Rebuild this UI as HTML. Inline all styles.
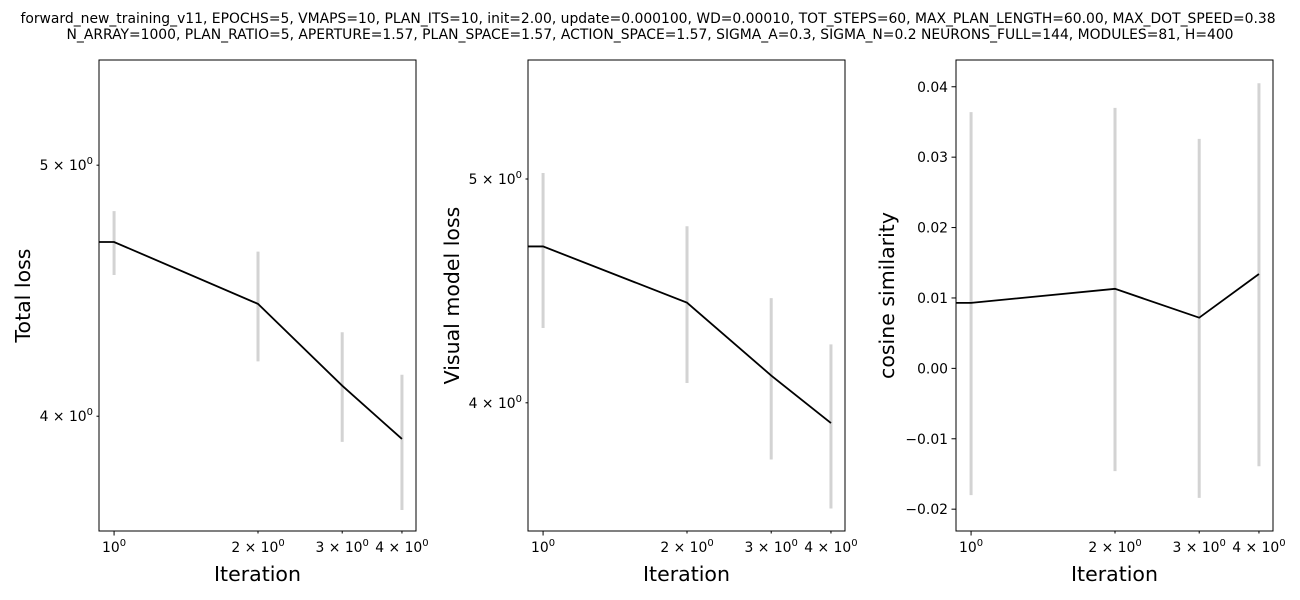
<!DOCTYPE html>
<html><head><meta charset="utf-8"><style>
body{margin:0;background:#fff;}
svg{display:block;font-family:"DejaVu Sans","Liberation Sans",sans-serif;}
</style></head><body>
<svg id="c" width="1300" height="600" viewBox="0 0 1300 600">
<text x="648" y="23" font-size="13.9" text-anchor="middle">forward_new_training_v11, EPOCHS=5, VMAPS=10, PLAN_ITS=10, init=2.00, update=0.000100, WD=0.00010, TOT_STEPS=60, MAX_PLAN_LENGTH=60.00, MAX_DOT_SPEED=0.38</text>
<text x="650" y="39" font-size="13.9" text-anchor="middle">N_ARRAY=1000, PLAN_RATIO=5, APERTURE=1.57, PLAN_SPACE=1.57, ACTION_SPACE=1.57, SIGMA_A=0.3, SIGMA_N=0.2 NEURONS_FULL=144, MODULES=81, H=400</text>
</svg>
<script>
const iterations=[1,2,3,4];
const totalLoss=[4.67,4.42,4.11,3.92];
const totalLo=[4.535,4.20,3.91,3.68];
const totalHi=[4.80,4.63,4.31,4.15];
const visLoss=[4.675,4.42,4.11,3.92];
const visLo=[4.31,4.08,3.78,3.60];
const visHi=[5.03,4.77,4.44,4.24];
const cosSim=[0.0093,0.0113,0.0072,0.0134];
const cosLo=[-0.018,-0.0146,-0.0184,-0.0139];
const cosHi=[0.0364,0.037,0.0326,0.0405];
const xTicks=[1,2,3,4];
const xTickLabels=[["10","0"],["2 × 10","0"],["3 × 10","0"],["4 × 10","0"]];
const cosTicks=[-0.02,-0.01,0,0.01,0.02,0.03,0.04];
const cosTickLabels=["−0.02","−0.01","0.00","0.01","0.02","0.03","0.04"];
const logYTicks=[4,5];
const logYLabels=[["4 × 10","0"],["5 × 10","0"]];

const svg=document.getElementById('c');
const NS='http://www.w3.org/2000/svg';
function mk(t,a,p){const e=document.createElementNS(NS,t);for(const k in a)e.setAttribute(k,a[k]);(p||svg).appendChild(e);return e;}
const T=60,B=531;
const xmin=Math.log10(0.93),xmax=Math.log10(4.28);
function sup(parent,x,y,parts,anchor){
  const t=mk('text',{x:x,y:y,'font-size':13.9,'text-anchor':anchor},parent);
  t.appendChild(document.createTextNode(parts[0]));
  const s=mk('tspan',{dy:-6,'font-size':10},t);s.textContent=parts[1];return t;
}
const panels=[
 {L:99,name:'total-loss',label:'Total loss',log:true,ymin:3.612,ymax:5.49,v:totalLoss,lo:totalLo,hi:totalHi,lx:30},
 {L:528,name:'visual-loss',label:'Visual model loss',log:true,ymin:3.52,ymax:5.63,v:visLoss,lo:visLo,hi:visHi,lx:459},
 {L:956,name:'cosine',label:'cosine similarity',log:false,ymin:-0.0231,ymax:0.0438,v:cosSim,lo:cosLo,hi:cosHi,lx:894}
];
panels.forEach(p=>{
  const W=317,R=p.L+W;
  const g=mk('g',{});
  
  
  const xs=v=>p.L+(Math.log10(v)-xmin)/(xmax-xmin)*W;
  const ys=p.log?(v=>B-(Math.log10(v)-Math.log10(p.ymin))/(Math.log10(p.ymax)-Math.log10(p.ymin))*(B-T))
                :(v=>B-(v-p.ymin)/(p.ymax-p.ymin)*(B-T));
  iterations.forEach((it,i)=>{
    const e=mk('line',{x1:xs(it),x2:xs(it),y1:ys(p.lo[i]),y2:ys(p.hi[i]),stroke:'#d3d3d3','stroke-width':3},g);
    
    
  });
  let d='M'+p.L+','+ys(p.v[0]);
  iterations.forEach((it,i)=>{d+=' L'+xs(it)+','+ys(p.v[i]);});
  const ln=mk('path',{d:d,fill:'none',stroke:'#000','stroke-width':1.8},g);
  
  
  const fr=mk('rect',{x:p.L,y:T,width:W,height:B-T,fill:'none',stroke:'#000','stroke-width':1},g);
  
  
  xTicks.forEach((v,i)=>{
    const x=xs(v);const len=i==0?4.5:2.5;
    mk('line',{x1:x,x2:x,y1:B,y2:B+len,stroke:'#000'},g);
    const t=sup(g,x,B+21,xTickLabels[i],'middle');
    
    
  });
  const xl=mk('text',{x:p.L+W/2,y:581,'font-size':20.5,'text-anchor':'middle'},g);
  xl.textContent='Iteration';
  
  
  const yl=mk('text',{x:p.lx,y:(T+B)/2,'font-size':20.5,'text-anchor':'middle',transform:'rotate(-90 '+p.lx+' '+(T+B)/2+')'},g);
  yl.textContent=p.label;
  
  
  if(p.log){
    logYTicks.forEach((v,i)=>{
      const y=ys(v);
      mk('line',{x1:p.L,x2:p.L-2.5,y1:y,y2:y,stroke:'#000'},g);
      const t=sup(g,p.L-6,y+5,logYLabels[i],'end');
      
      
    });
  }else{
    cosTicks.forEach((v,i)=>{
      const y=ys(v);
      mk('line',{x1:p.L,x2:p.L-4.5,y1:y,y2:y,stroke:'#000'},g);
      const t=mk('text',{x:p.L-8,y:y+5,'font-size':13.9,'text-anchor':'end'},g);
      t.textContent=cosTickLabels[i];
      
      
    });
  }
});
</script>
</body></html>
